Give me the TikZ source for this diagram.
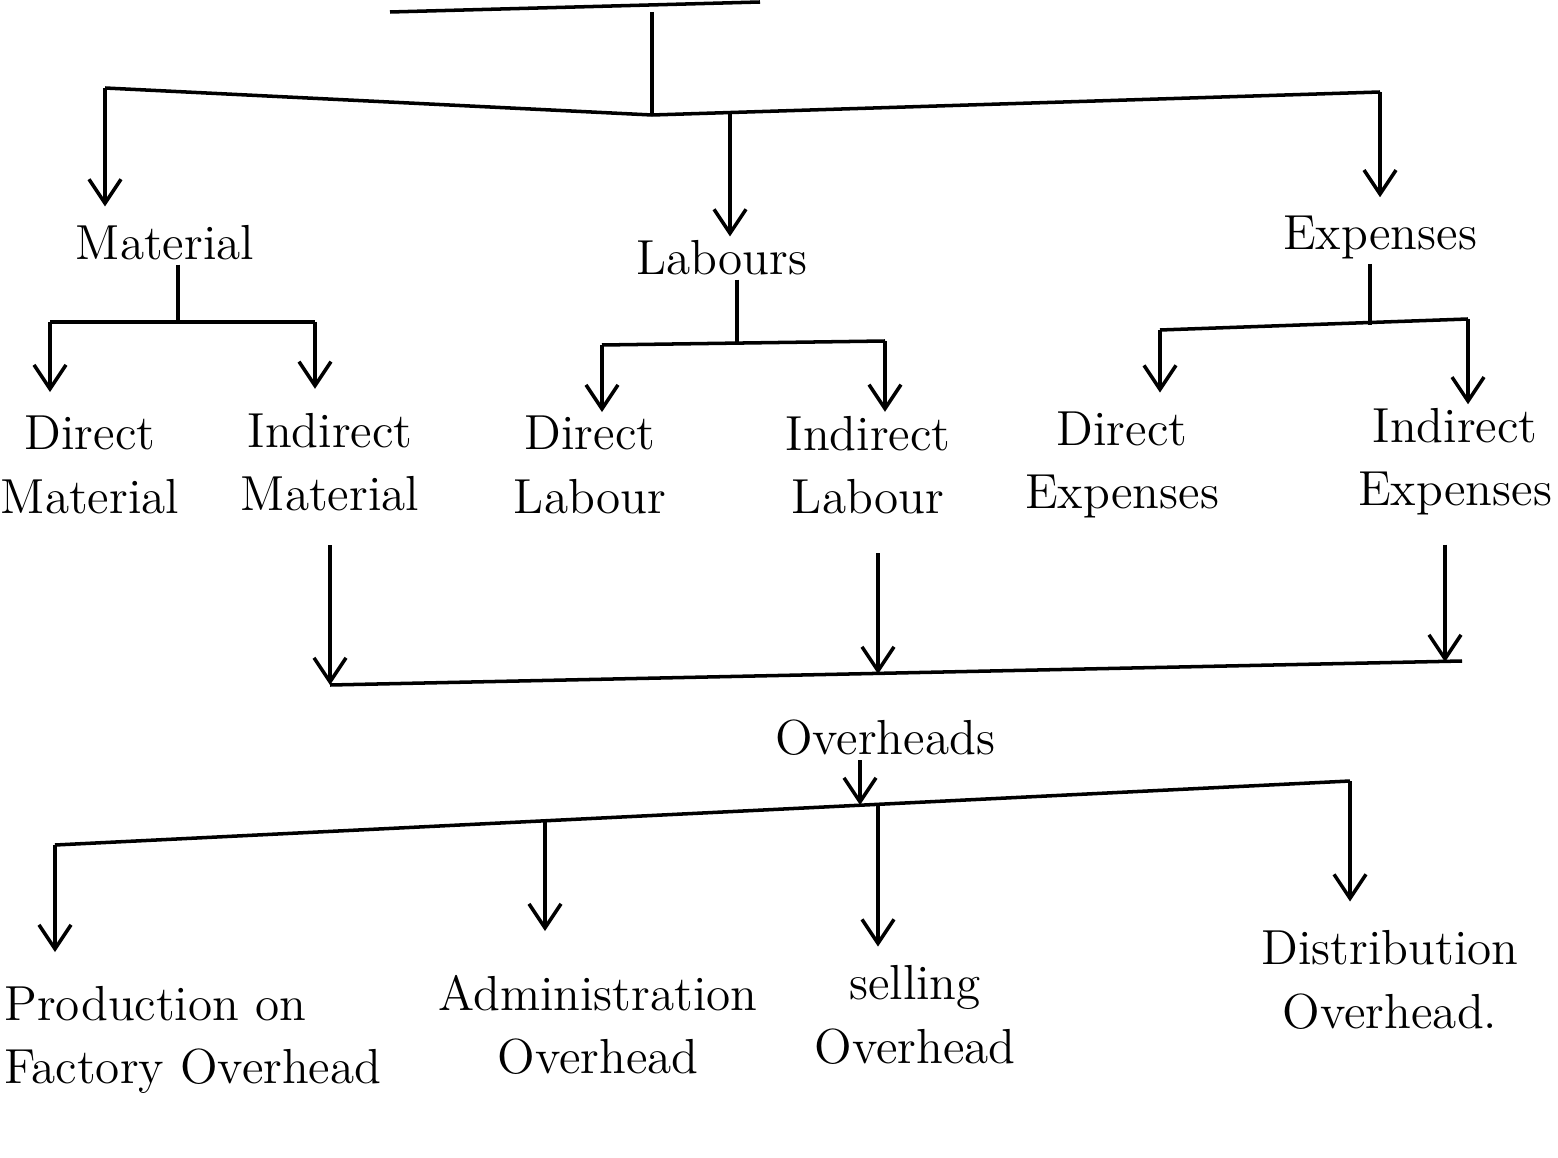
\documentclass[tikz,border=0pt]{standalone}
\usetikzlibrary{positioning,calc,arrows.meta}
\tikzset{
  lbl/.style={align=center, inner sep=1pt, font=\fontsize{14}{18}\selectfont},
  ln/.style={line width=1pt},
  arr/.style={ln, -{Straight Barb[length=2.4mm, width=3.2mm]}}}

\begin{document}
\begin{tikzpicture}[x=0.01cm, y=-0.01cm]
\useasboundingbox (0,0) rectangle (1558,1158);
% heads
\node[lbl] (mat) at (165,243) {Material};
\node[lbl] (lab) at (722,258) {Labours};
\node[lbl] (exp) at (1380,238) {Expenses};
% second row
\node[lbl] (dmat) at (90,465) {Direct\\Material};
\node[lbl] (imat) at (330,462) {Indirect\\Material};
\node[lbl] (dlab) at (590,465) {Direct\\Labour};
\node[lbl] (ilab) at (868,465) {Indirect\\Labour};
\node[lbl] (dexp) at (1122,465) {Direct\\Expenses};
\node[lbl] (iexp) at (1455,462) {Indirect\\Expenses};
\node[lbl] (ovh) at (885,738) {Overheads};
% last row
\node[lbl, align=left, anchor=west] (prod) at (0,1040) {Production on\\Factory Overhead};
\node[lbl] (adm) at (598,1025) {Administration\\Overhead};
\node[lbl] (sell) at (915,1015) {selling\\Overhead};
\node[lbl] (dist) at (1390,980) {Distribution\\Overhead.};
% top
\coordinate (t0) at (652,12);
\coordinate (b1l) at (105,88);
\coordinate (b1m) at (652,115);
\coordinate (b1c) at (730,114);
\coordinate (b1r) at (1380,92);
\draw[ln] (390,12) -- (760,2);
\draw[ln] (t0) -- (b1m);
\draw[ln] (b1l) -- (b1m) -- (b1r);
\draw[arr, shorten >=1.5mm] (b1l) -- (b1l |- mat.north);
\draw[arr] (b1c) -- (b1c |- lab.north);
\draw[arr, shorten >=1.5mm] (b1r) -- (b1r |- exp.north);
% material
\coordinate (m0) at (178,322);
\coordinate (ml) at (50,322);
\coordinate (mr) at (315,322);
\draw[ln] (m0 |- mat.south) -- (m0);
\draw[ln] (ml) -- (mr);
\draw[arr, shorten >=2mm] (ml) -- (ml |- dmat.north);
\draw[arr, shorten >=2mm] (mr) -- (mr |- imat.north);
% labour
\coordinate (l0) at (737,343);
\coordinate (ll) at (602,345);
\coordinate (lr) at (885,341);
\draw[ln] (l0 |- lab.south) -- (l0);
\draw[ln] (ll) -- (lr);
\draw[arr] (ll) -- (ll |- dlab.north);
\draw[arr] (lr) -- (lr |- ilab.north);
% expenses
\coordinate (e0) at (1370,325);
\coordinate (el) at (1160,330);
\coordinate (er) at (1468,319);
\draw[ln] (e0 |- exp.south) -- (e0);
\draw[ln] (el) -- (er);
\draw[arr, shorten >=1.5mm] (el) -- (el |- dexp.north);
\draw[arr] (er) -- (er |- iexp.north);
% into overheads
\coordinate (oh1) at (330,685);
\coordinate (oh2) at (878,674);
\coordinate (oh3) at (1445,662);
\draw[ln] (oh1) -- (1462,661);
\draw[arr] ($(oh1 |- imat.south)+(0,30)$) -- (oh1);
\draw[arr] ($(oh2 |- ilab.south)+(0,35)$) -- (oh2);
\draw[arr] ($(oh3 |- iexp.south)+(0,25)$) -- (oh3);
% overheads split
\coordinate (o4) at (860,805);
\coordinate (pl) at (55,845);
\coordinate (pa) at (545,820);
\coordinate (ps) at (878,804);
\coordinate (pd) at (1350,781);
\draw[arr] (o4 |- ovh.south) -- (o4);
\draw[ln] (pl) -- (pd);
\draw[arr, shorten >=3mm] (pl) -- (pl |- prod.north);
\draw[arr, shorten >=4mm] (pa) -- (pa |- adm.north);
\draw[arr, shorten >=1.5mm] (ps) -- (ps |- sell.north);
\draw[arr, shorten >=2.5mm] (pd) -- (pd |- dist.north);
\end{tikzpicture}
\end{document}
